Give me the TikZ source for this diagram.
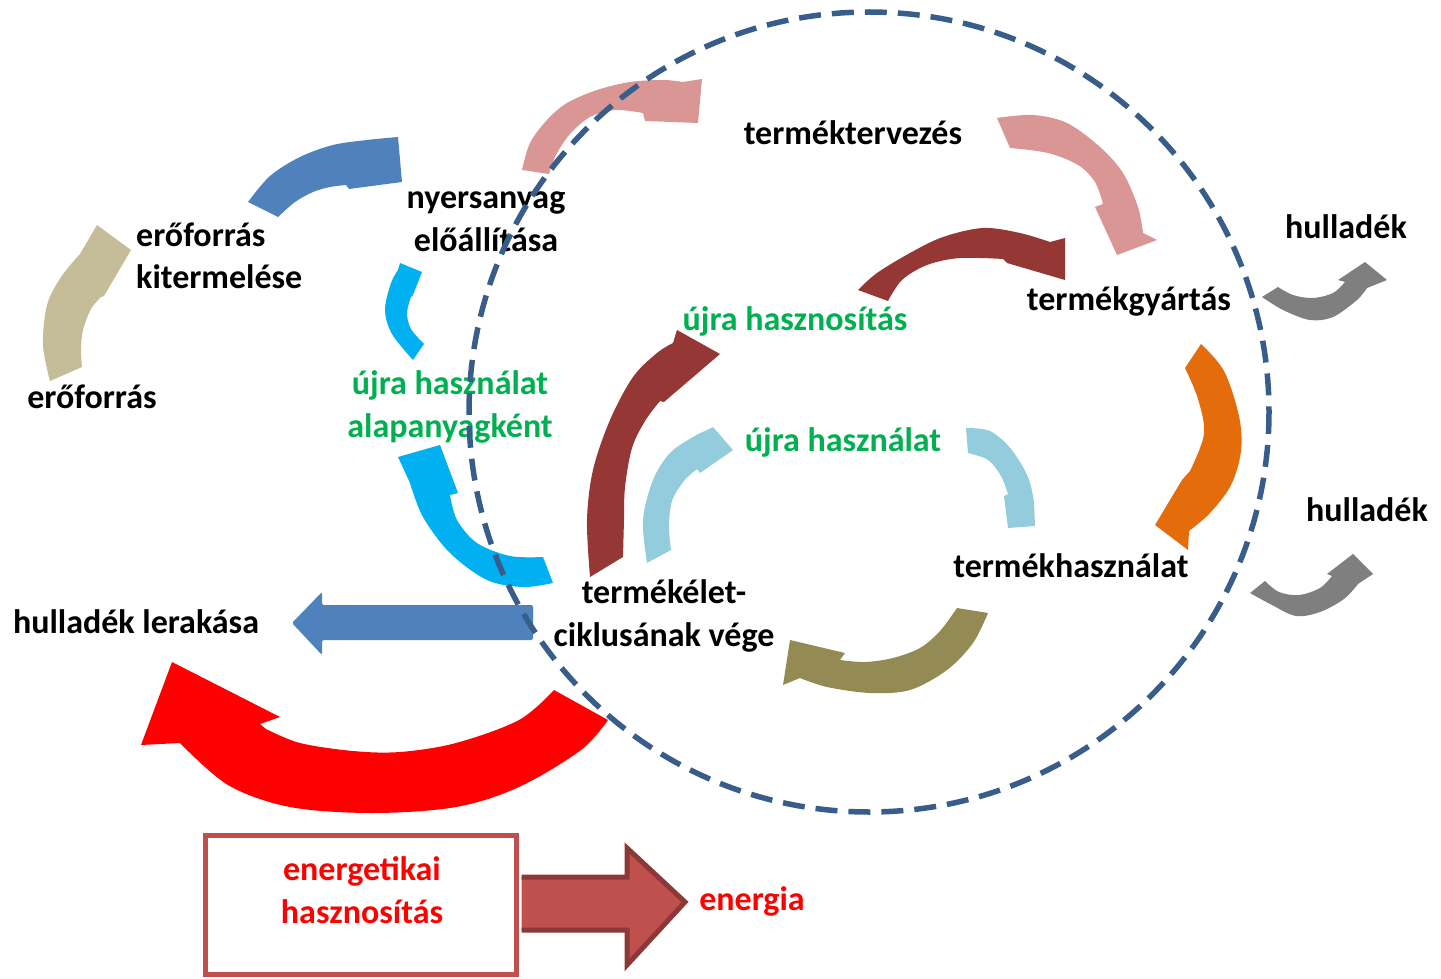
\documentclass[tikz,border=0pt]{standalone}
\usepackage{fontspec}
\setmainfont{Carlito}
\definecolor{khaki}{RGB}{196,189,151}
\definecolor{steel}{RGB}{79,129,189}
\definecolor{rosy}{RGB}{217,150,148}
\definecolor{maroon}{RGB}{149,55,53}
\definecolor{paleblue}{RGB}{147,205,221}
\definecolor{orng}{RGB}{228,108,10}
\definecolor{olive}{RGB}{148,138,84}
\definecolor{grey}{RGB}{127,127,127}
\definecolor{cyanb}{RGB}{0,176,240}
\definecolor{circblue}{RGB}{56,93,138}
\definecolor{boxred}{RGB}{192,80,77}
\definecolor{darkred}{RGB}{140,56,54}
\definecolor{ujg}{RGB}{0,176,80}
\newcommand{\barrow}[4]{\fill[#1] plot[smooth,tension=0.55] coordinates {#2} -- #3 -- plot[smooth,tension=0.55] coordinates {#4} -- cycle;}
\newcommand{\twol}[3]{\begin{tabular}[t]{@{}#1@{}}#2\\#3\end{tabular}}
\begin{document}
\begin{tikzpicture}[x=1pt,y=-1pt,
  lbl/.style={font=\fontsize{34}{43}\selectfont\bfseries, inner sep=0pt, anchor=base},
  circ/.style={draw=circblue, line width=5.5pt, dash pattern=on 22pt off 11pt},
  ebox/.style={draw=boxred, line width=5pt, fill=white, minimum width=311pt, minimum height=139pt, inner sep=0pt}]
\useasboundingbox (0,0) rectangle (1441,979);

% curved block arrows
\barrow{khaki}{(50,381) (43,345) (47,305) (61,277) (80,254)}{(97,225) -- (131,250) -- (104,296)}{(101,297) (91,309) (83,330) (81,350) (82,367)}
\barrow{steel}{(248,202) (270,176) (300,157) (333,145) (367,140) (398,137)}{(402,182) -- (349,189)}{(346,185) (330,187) (313,192) (295,202) (278,217)}
\barrow{rosy}{(522,170) (530,143) (547,120) (567,103) (597,90) (630,82) (663,80) (683,82)}{(702,79) -- (698,123) -- (645,121)}{(643,113) (615,110) (590,117) (570,134) (556,155) (549,174)}
\barrow{rosy}{(997,118) (1033,115) (1067,123) (1100,147) (1123,173) (1138,207) (1143,233)}{(1157,240) -- (1117,255) -- (1095,207)}{(1103,204) (1095,182) (1078,165) (1048,153) (1010,148)}
\barrow{maroon}{(858,290) (877,273) (910,253) (943,237) (983,228) (1020,233) (1050,242)}{(1065,238) -- (1065,280) -- (1007,263)}{(1003,259) (960,258) (927,265) (902,280) (888,301)}
\barrow{maroon}{(590,577) (587,520) (593,470) (610,420) (633,377) (657,353) (673,343)}{(677,330) -- (720,354) -- (664,402)}{(660,401) (645,421) (632,448) (625,487) (624,520) (623,557)}
\barrow{paleblue}{(647,563) (643,520) (653,480) (670,453) (693,437) (705,431)}{(713,427) -- (733,450) -- (700,473)}{(697,469) (684,481) (672,501) (669,527) (671,550)}
\barrow{paleblue}{(966,428) (990,431) (1011,449) (1028,477) (1034,502)}{(1035,526) -- (1008,528) -- (1004,496)}{(1008,494) (1001,476) (988,460) (968,453)}
\barrow{orng}{(1201,344) (1224,371) (1239,416) (1241,451) (1231,485) (1210,513) (1189,531)}{(1188,550) -- (1155,525) -- (1182,480)}{(1190,471) (1204,434) (1198,399) (1185,368)}
\barrow{olive}{(988,613) (973,643) (947,670) (910,690) (870,693) (827,687) (800,678)}{(783,685) -- (790,640) -- (845,653)}{(840,660) (865,662) (893,658) (920,648) (940,631) (957,608)}
\barrow{cyanb}{(413,360) (392,334) (385,310) (391,283) (398,270)}{(400,263) -- (422,272) -- (413,295)}{(411,297) (407,313) (411,329) (424,344)}
\barrow{cyanb}{(553,583) (523,587) (487,580) (450,553) (423,517) (410,483)}{(398,457) -- (440,445) -- (458,493)}{(450,495) (457,520) (477,543) (510,556) (543,557)}
\barrow{red}{(608,720) (581,750) (519,787) (456,807) (373,813) (290,807) (228,785) (180,743)}{(141,745) -- (172,662) -- (280,717) -- (260,724)}{(266,729) (300,743) (353,751) (400,752) (456,743) (519,720) (554,690)}
\barrow{grey}{(1262,297) (1283,310) (1310,320) (1333,317) (1357,300) (1367,288)}{(1387,280) -- (1365,262) -- (1338,280)}{(1345,282) (1333,293) (1313,298) (1293,295) (1278,287)}
\barrow{grey}{(1250,593) (1272,605) (1296,616) (1320,612) (1344,599) (1358,584)}{(1373,574) -- (1353,554) -- (1327,574)}{(1332,576) (1320,588) (1299,595) (1279,592) (1265,581)}

% straight blue arrow to landfill
\fill[steel, rounded corners=2pt] (533,605) -- (322,605) -- (322,592) -- (292,623) -- (322,655) -- (322,640) -- (533,640) -- cycle;

% labels
\node[lbl] (ef) at (92,408) {erőforrás};
\node[lbl, anchor=base west] (efk) at (136,246) {\twol{l}{erőforrás}{kitermelése}};
\node[lbl] (nye) at (486,208) {\twol{c}{nyersanyag}{előállítása}};
\node[lbl] (tt) at (853,145) {terméktervezés};
\node[lbl] (tgy) at (1129,310) {termékgyártás};
\node[lbl] (h1) at (1346,238) {hulladék};
\node[lbl] (h2) at (1367,521) {hulladék};
\node[lbl] (th) at (1071,577) {termékhasználat};
\node[lbl] (tev) at (664,603) {\twol{c}{termékélet-}{ciklusának vége}};
\node[lbl] (hl) at (136,633) {hulladék lerakása};
\node[lbl, text=ujg] (uh) at (795,330) {újra hasznosítás};
\node[lbl, text=ujg] (uha) at (843,451) {újra használat};
\node[lbl, text=ujg] (uhal) at (450,394) {\twol{c}{újra használat}{alapanyagként}};

% energy recovery box and arrow
\node[ebox] (box) at (361,905) {};
\node[lbl, text=red] (en) at (752,910) {energia};
\filldraw[fill=boxred, draw=darkred, line width=5pt, line join=miter]
  ([xshift=2.5pt]box.east |- 0,877) -- (627,877) -- (627,848) -- (685,902) -- (627,965) -- (627,930) -- ([xshift=2.5pt]box.east |- 0,930);
\node[ebox] (box2) at (box.center) {};
\node[lbl, text=red] (eh) at (362,880) {\twol{c}{energetikai}{hasznosítás}};

% dashed system boundary
\draw[circ] (869,412) circle[radius=400];
\end{tikzpicture}
\end{document}
